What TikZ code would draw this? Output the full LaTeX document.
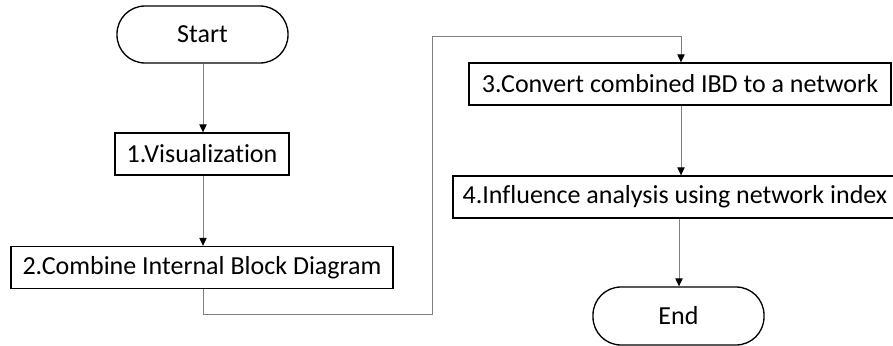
\documentclass[tikz,border=0pt]{standalone}
\usepackage{fontspec}
\setmainfont{Carlito}[RawFeature=-liga]
\usetikzlibrary{arrows.meta}
\begin{document}
\begin{tikzpicture}[x=0.75pt,y=-0.75pt,
  every node/.style={font=\fontsize{19.5pt}{23pt}\selectfont, inner sep=0pt, line width=1pt, draw=black},
  term/.style={rounded corners=21pt, minimum width=171*0.75pt, minimum height=57*0.75pt},
  proc/.style={minimum height=42*0.75pt},
  conn/.style={draw=black!50, line width=0.75pt, -{Triangle[width=5.5pt,length=6pt,color=black]}}
]
\useasboundingbox (0,0) rectangle (893,346);
\node[term] (start) at (202.5,34.5) {Start};
\node[proc, minimum width=174*0.75pt] (b1) at (202,154) {1.Visualization};
\node[proc, minimum width=382*0.75pt] (b2) at (202,267.5) {2.Combine Internal Block Diagram};
\node[proc, minimum width=422*0.75pt] (b3) at (680,84) {3.Convert combined IBD to a network};
\node[proc, minimum width=452*0.75pt] (b4) at (679,197) {\hspace*{-6pt}4.Influence analysis using network index};
\node[term, minimum height=58*0.75pt] (end) at (678.5,316) {End};
\coordinate (c1) at (203,314);
\coordinate (c2) at (432,314);
\coordinate (c3) at (432,37);
\coordinate (c4) at (681,37);
\draw[conn] (start.south -| 203,0) -- (b1.north -| 203,0);
\draw[conn] (b1.south -| 203,0) -- (b2.north -| 203,0);
\draw[conn] (b2.south -| c1) -- (c1) -- (c2) -- (c3) -- (c4) -- (b3.north -| c4);
\draw[conn] (b3.south -| 681,0) -- (b4.north -| 681,0);
\draw[conn] (b4.south -| 679,0) -- (end.north -| 679,0);
\end{tikzpicture}
\end{document}
